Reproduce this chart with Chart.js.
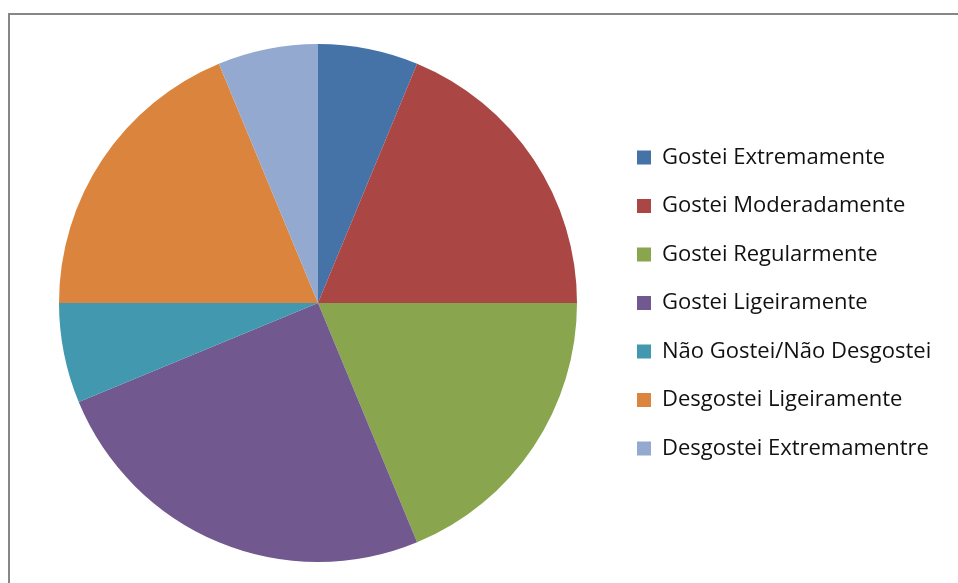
<!DOCTYPE html>
<html>
<head>
<meta charset="utf-8">
<script src="https://cdn.jsdelivr.net/npm/chart.js@4"></script>
<style>
  html, body { margin: 0; padding: 0; background: #fff; overflow: hidden; }
  #wrap { position: relative; width: 958px; height: 583px; }
  #frame { position: absolute; left: 8px; top: 13px; width: 980px; height: 600px;
           border-top: 2px solid #878787; border-left: 2px solid #878787; }
  canvas { position: absolute; left: 0; top: 0; }
</style>
</head>
<body>
<div id="wrap">
  <div id="frame"></div>
  <canvas id="grafico" width="958" height="583"></canvas>
</div>
<script>
const categorias = [
    "Gostei Extremamente",
    "Gostei Moderadamente",
    "Gostei Regularmente",
    "Gostei Ligeiramente",
    "Não Gostei/Não Desgostei",
    "Desgostei Ligeiramente",
    "Desgostei Extremamentre"
];
const respostas = [1, 3, 3, 4, 1, 3, 1];
const cores = ["#4572A7", "#AA4643", "#89A54E", "#71588F", "#4198AF", "#DB843D", "#93A9CF"];

const grafico = new Chart("grafico", {
    type: "pie",
    data: {
        labels: categorias,
        datasets: [{
            data: respostas,
            backgroundColor: cores,
            borderWidth: 0
        }]
    },
    options: {
        responsive: false,
        animation: false,
        layout: {
            padding: { left: 25.5, top: 44, bottom: 21, right: 27.5 }
        },
        plugins: {
            tooltip: { enabled: false },
            legend: {
                position: "right",
                maxWidth: 320,
                labels: {
                    boxWidth: 14,
                    boxHeight: 14,
                    padding: 26.5,
                    color: "#111",
                    font: { family: "Open Sans", size: 22 }
                }
            }
        }
    }
});
</script>
</body>
</html>
